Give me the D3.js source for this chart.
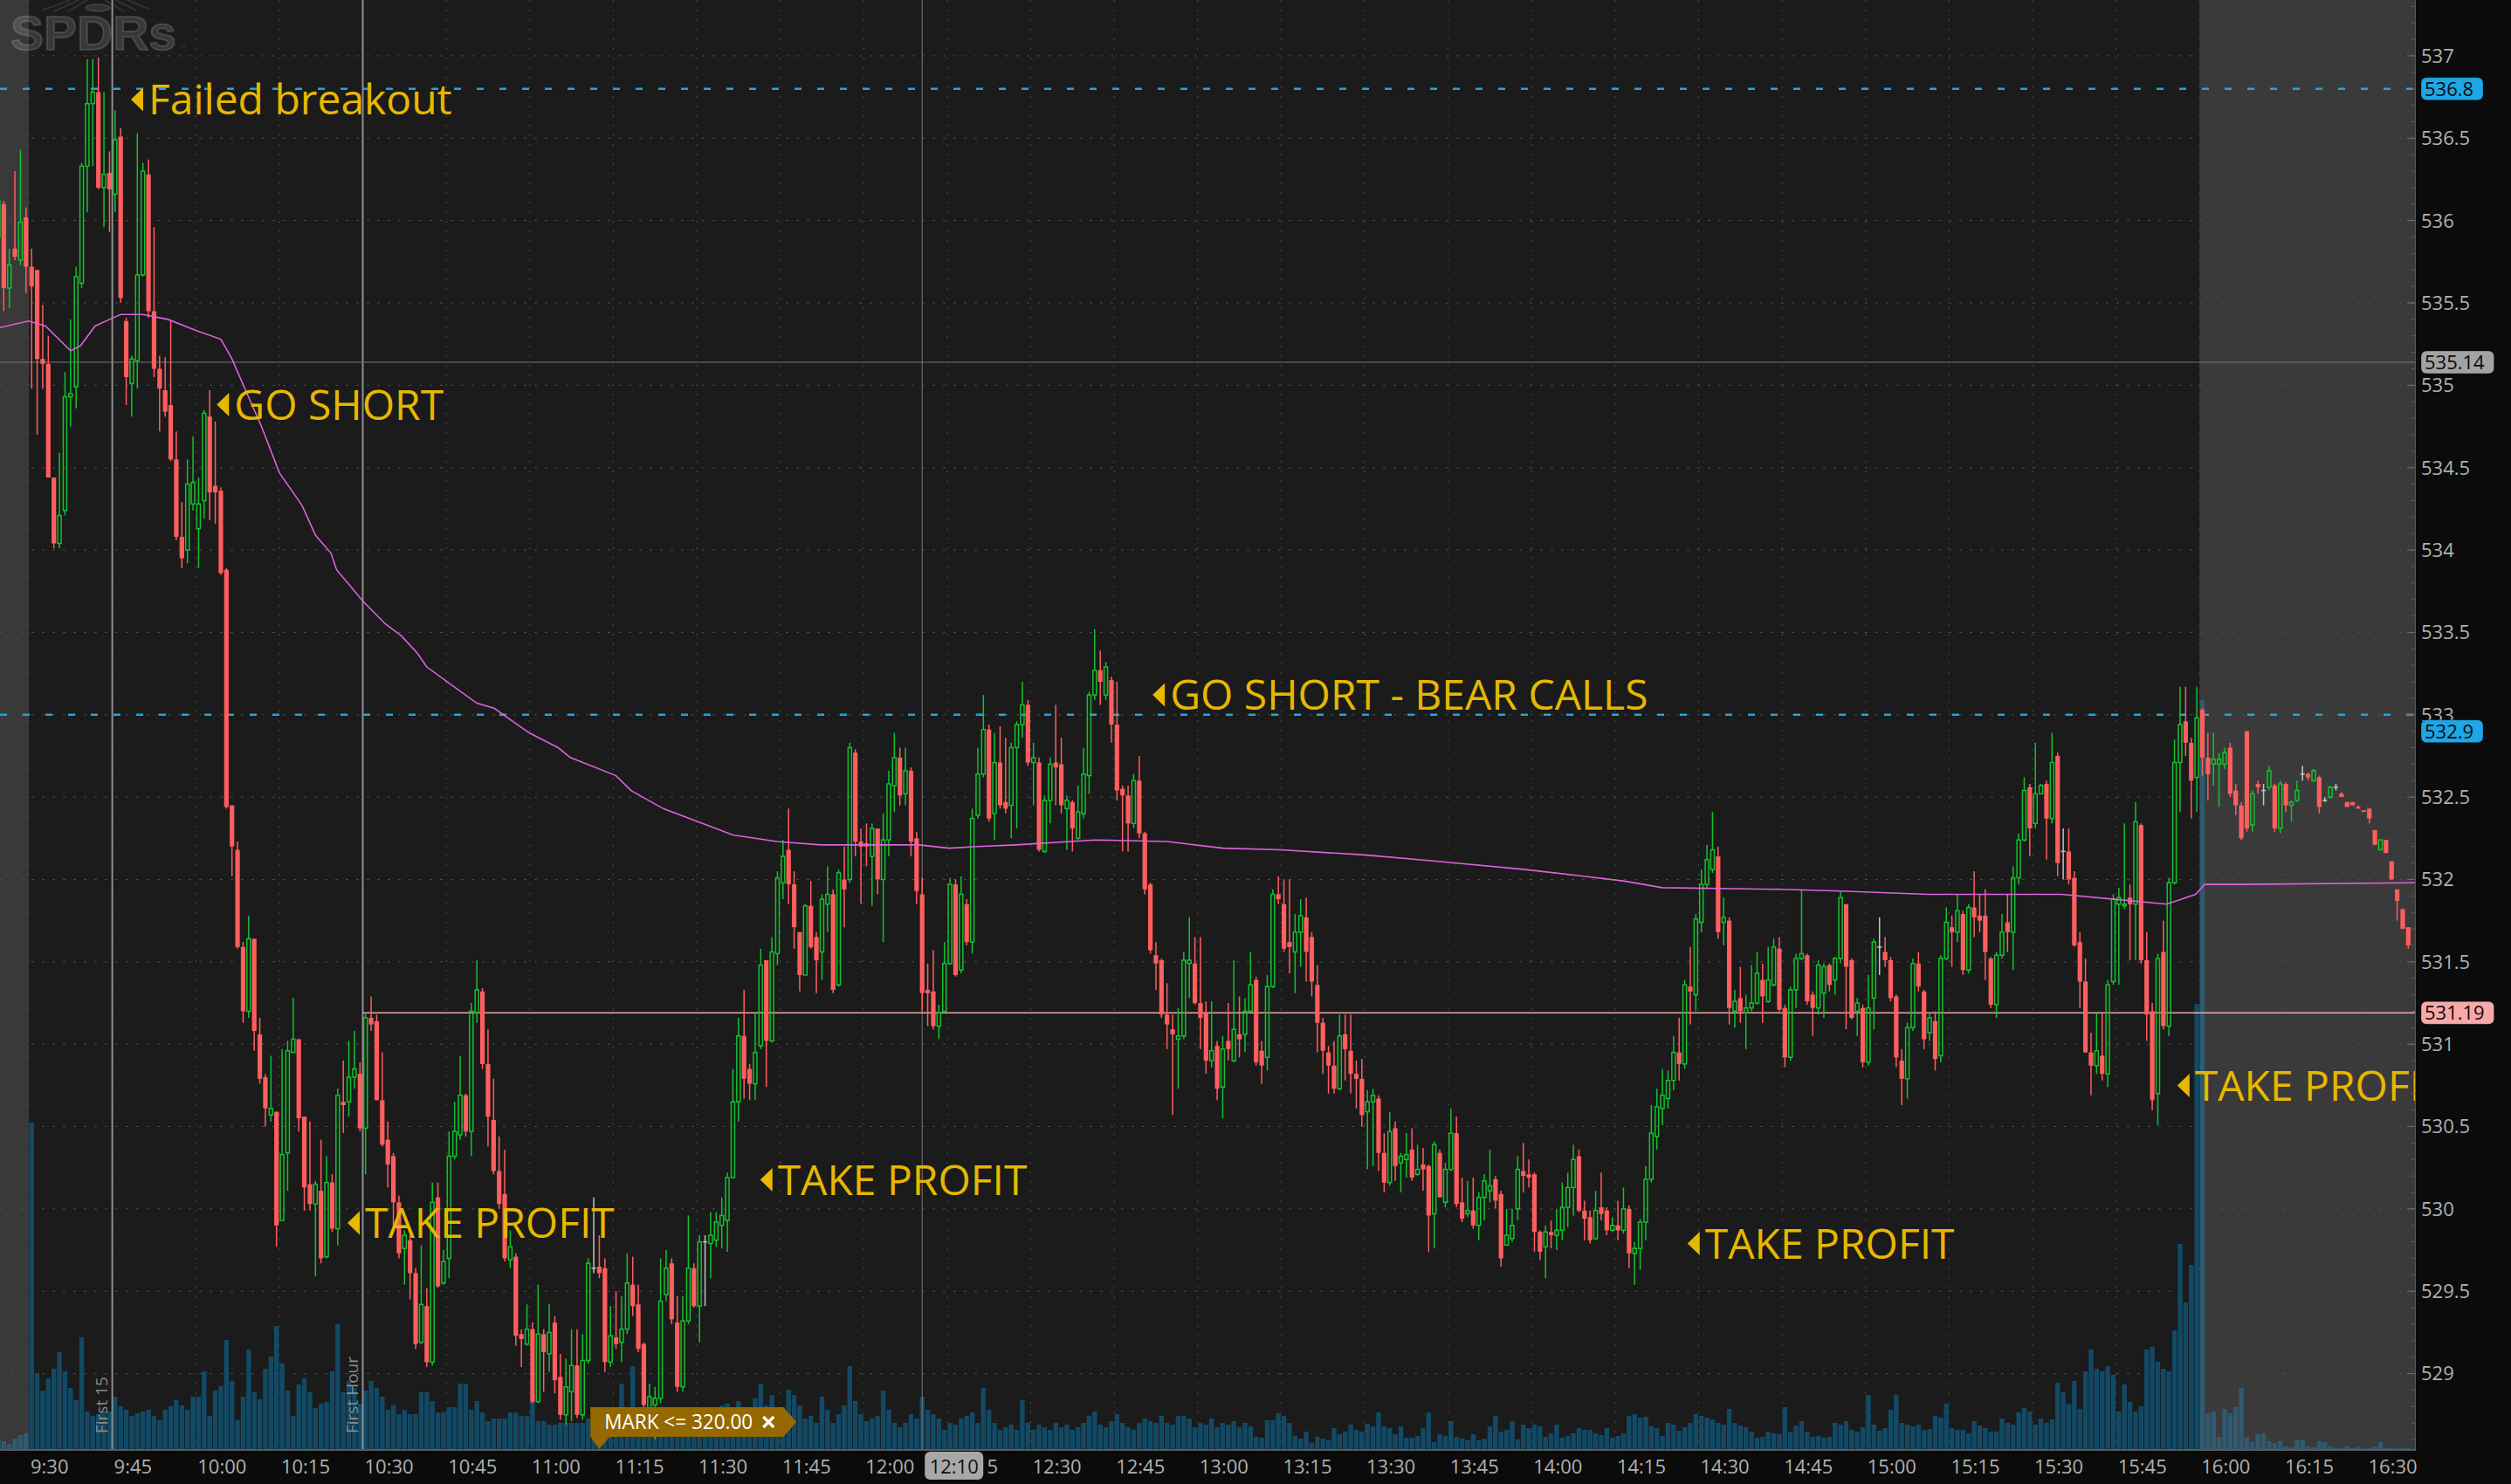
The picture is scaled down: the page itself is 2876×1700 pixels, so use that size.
<!DOCTYPE html>
<html><head><meta charset="utf-8">
<script src="https://cdn.jsdelivr.net/npm/d3@7"></script>
<style>html,body{margin:0;padding:0;background:#0b0b0b;overflow:hidden}</style>
</head><body>
<svg id="chart" width="2876" height="1700"></svg>
<script>
// ---------------- DATA ----------------
// 1-minute SPY bars, minute index relative to 9:30 (first bar = 9:24 pre-market)
const firstMinute = -6;
const openP = [
535.90,536.10,535.59,535.83,535.76,536.02,535.72,535.70,535.16,535.13,
534.44,534.04,534.24,534.93,534.99,535.62,536.33,536.71,536.78,536.20,
536.29,536.16,536.51,535.39,535.01,535.15,535.67,536.28,535.45,535.10,
534.97,534.88,534.55,534.08,534.00,534.28,534.13,534.30,534.81,534.39,
534.36,533.88,532.45,532.18,531.59,531.20,531.64,531.06,530.80,530.57,
530.59,529.93,530.34,530.95,531.03,530.56,530.15,530.03,530.11,529.71,
530.16,529.88,530.65,530.65,530.80,530.82,530.49,531.16,531.14,530.66,
530.42,530.32,530.04,529.76,529.81,529.61,529.19,529.41,529.07,530.07,
529.55,529.70,530.32,530.45,530.69,530.47,531.19,531.32,530.88,530.54,
530.23,530.09,529.69,529.71,529.24,529.18,529.27,528.83,529.24,529.12,
529.31,528.98,528.75,528.89,529.05,528.75,529.08,529.64,529.65,529.64,
529.07,529.22,529.19,529.27,529.54,529.42,529.18,528.78,528.81,528.85,
529.48,529.67,529.31,528.92,529.32,529.64,529.41,529.80,529.79,529.81,
529.90,529.93,530.19,530.65,531.05,530.85,530.76,530.99,531.51,531.02,
531.55,531.98,532.18,531.97,531.68,531.42,531.84,531.65,531.56,531.85,
531.91,531.36,532.00,532.00,532.77,532.23,532.22,532.14,532.31,532.00,
532.24,532.57,532.74,532.52,532.66,532.25,531.91,531.33,531.32,531.11,
531.20,531.49,531.97,531.45,531.85,531.62,532.39,532.64,532.91,532.40,
532.71,532.47,532.45,532.80,532.94,533.06,532.71,532.71,532.17,532.48,
532.71,532.70,532.43,532.47,532.25,532.40,532.63,533.12,533.27,533.12,
533.21,532.94,532.55,532.51,532.34,532.60,532.28,531.97,531.54,531.51,
531.18,531.09,531.03,531.05,531.49,531.49,531.25,531.19,530.90,530.99,
530.74,531.02,530.90,531.06,531.06,531.20,531.39,530.96,530.92,531.35,
531.91,531.85,531.62,531.56,531.68,531.77,531.65,531.36,531.13,530.95,
530.87,530.73,531.06,530.96,530.82,530.79,530.59,530.65,530.67,530.34,
530.16,530.49,530.28,530.30,530.36,530.21,530.27,530.26,529.97,530.34,
530.04,530.24,530.46,530.04,529.97,529.99,529.90,530.07,530.11,530.18,
530.09,529.78,529.82,530.00,530.23,530.21,530.21,529.86,529.77,529.86,
529.84,529.87,530.01,530.13,530.32,529.99,529.95,529.82,530.01,529.99,
529.87,529.90,529.87,530.00,529.73,529.76,529.92,530.18,530.44,530.61,
530.67,530.78,530.95,530.88,531.35,531.30,531.74,531.97,532.06,532.14,
531.74,531.75,531.20,531.28,531.19,531.22,531.25,531.39,531.26,531.36,
531.58,531.22,530.92,531.33,531.52,531.54,531.30,531.22,531.31,531.48,
531.39,531.52,531.85,531.51,531.20,531.22,530.89,531.28,531.59,531.56,
531.51,531.29,530.90,530.79,531.10,531.49,531.32,531.07,531.14,530.93,
531.52,531.71,531.68,531.79,531.45,531.83,531.78,531.78,531.52,531.24,
531.54,531.74,531.68,532.01,532.24,532.56,532.34,532.52,532.58,532.37,
532.75,532.17,532.17,532.01,531.62,531.38,530.95,530.87,530.93,530.82,
531.38,531.85,531.84,531.89,531.85,532.33,531.51,531.20,530.70,531.56,
531.11,531.98,532.71,532.96,532.83,532.62,533.03,532.74,532.70,532.70,
532.70,532.80,532.54,532.45,532.90,532.33,532.58,532.54,532.56,532.57,
532.31,532.58,532.45,532.48,532.64,532.64,532.60,532.62,532.48,532.50,
532.56,532.52,532.47,532.47,532.44,532.42,532.43,532.30,532.18,532.24,
532.11,531.94,531.82,531.71];
const highP = [
536.16,536.12,535.83,536.30,536.43,536.08,535.83,535.70,535.49,535.30,
534.44,534.59,535.08,535.40,535.72,536.35,536.98,536.98,536.99,536.78,
536.42,536.67,536.56,535.41,535.18,536.53,536.35,536.37,535.96,535.18,
535.17,535.39,534.72,534.29,534.55,534.69,534.44,534.85,534.97,534.78,
534.38,533.89,532.45,532.23,531.62,531.78,531.64,531.16,530.82,530.93,
530.59,530.97,531.02,531.28,531.03,530.56,530.53,530.17,530.42,530.32,
530.21,530.73,530.90,531.02,531.08,530.89,531.19,531.29,531.18,530.95,
530.53,530.34,530.08,529.87,529.84,529.64,529.78,529.52,530.16,530.16,
529.75,530.47,530.65,530.93,530.70,531.25,531.51,531.34,531.09,530.79,
530.44,530.36,529.87,529.73,529.27,529.42,529.31,529.54,529.27,529.42,
529.35,529.12,529.09,529.27,529.27,529.24,529.70,530.07,529.84,529.70,
529.41,529.50,529.47,529.73,529.71,529.54,529.19,528.94,528.92,529.70,
529.75,529.70,529.47,529.47,529.96,529.67,529.84,529.84,529.98,529.98,
530.07,530.22,530.85,531.16,531.33,530.88,531.19,531.58,531.51,531.65,
532.05,532.24,532.43,532.05,531.68,531.85,531.99,531.68,531.91,532.08,
531.94,532.06,532.20,532.83,532.79,532.31,532.34,532.34,532.31,532.40,
532.66,532.89,532.80,532.80,532.68,532.29,532.01,531.49,531.57,531.24,
531.62,532.01,532.00,532.02,531.88,532.43,532.80,533.12,532.94,532.89,
532.93,532.86,532.83,532.96,533.20,533.09,532.83,532.74,532.51,532.74,
533.06,532.86,532.51,532.48,532.57,532.80,533.14,533.52,533.39,533.32,
533.23,533.20,532.57,532.57,532.64,532.75,532.29,531.98,531.62,531.52,
531.37,531.18,531.22,531.56,531.77,531.65,531.65,531.26,531.26,531.02,
531.05,531.25,531.51,531.29,531.28,531.56,531.41,531.02,531.42,531.94,
532.02,532.00,532.00,531.79,531.88,531.89,531.68,531.48,531.16,530.99,
531.02,531.18,531.18,531.18,530.90,530.91,530.72,530.73,530.69,530.46,
530.59,530.53,530.34,530.46,530.49,530.39,530.37,530.27,530.41,530.36,
530.28,530.61,530.56,530.19,530.17,530.19,530.10,530.21,530.36,530.20,
530.11,530.00,530.00,530.32,530.40,530.30,530.22,529.87,529.90,529.93,
530.00,530.16,530.22,530.39,530.36,530.05,529.99,530.11,530.22,530.01,
529.95,530.05,530.13,530.02,529.80,529.94,530.26,530.63,530.73,530.85,
530.84,531.05,531.16,531.39,531.59,531.79,532.06,532.21,532.41,532.20,
531.89,531.77,531.33,531.47,531.30,531.48,531.56,531.49,531.59,531.64,
531.65,531.24,531.35,531.55,531.94,531.55,531.32,531.51,531.49,531.49,
531.53,531.93,531.85,531.52,531.28,531.24,531.42,531.64,531.77,531.65,
531.53,531.30,530.97,531.13,531.52,531.56,531.33,531.19,531.20,531.54,
531.83,531.78,531.91,531.81,531.85,532.05,531.91,531.94,531.53,531.56,
531.79,531.91,532.08,532.28,532.62,532.58,532.83,532.58,532.60,532.89,
532.77,532.31,532.31,532.05,531.68,531.52,531.07,531.19,531.19,531.39,
531.91,531.95,532.34,531.97,532.47,532.34,531.68,531.25,531.55,531.75,
532.01,532.85,533.17,533.17,532.86,533.17,533.04,532.89,532.89,532.77,
532.80,532.83,532.58,532.47,532.90,532.54,532.60,532.58,532.69,532.58,
532.60,532.59,532.48,532.60,532.69,532.65,532.67,532.63,532.50,532.57,
532.58,532.53,532.47,532.47,532.45,532.42,532.43,532.30,532.24,532.24,
532.11,531.94,531.82,531.71];
const lowP = [
535.87,535.45,535.47,535.76,535.73,535.56,534.98,534.70,534.98,534.44,
534.01,534.01,534.21,534.75,534.86,535.59,536.05,536.33,536.19,535.96,
535.93,536.05,535.50,534.88,534.81,534.98,535.66,535.41,535.05,534.72,
534.81,534.54,534.06,533.89,533.92,534.24,533.89,534.19,534.18,534.16,
533.85,532.43,532.02,531.58,531.13,531.16,530.96,530.76,530.50,530.53,
529.77,529.93,530.11,530.95,530.47,529.99,529.99,529.59,529.67,529.70,
529.86,529.78,530.46,530.56,530.73,530.47,530.21,531.08,530.66,530.38,
530.13,529.90,529.70,529.54,529.45,529.15,529.18,529.04,529.05,529.52,
529.54,529.58,530.30,530.42,530.44,530.32,531.13,530.85,530.38,530.21,
530.00,529.68,529.64,529.17,529.04,529.17,528.82,528.82,528.89,529.01,
528.88,528.72,528.69,528.71,528.73,528.72,529.06,529.61,529.58,529.01,
529.04,529.15,529.07,529.24,529.35,529.13,528.77,528.63,528.60,528.82,
529.44,529.30,528.89,528.89,529.30,529.40,529.19,529.41,529.58,529.77,
529.76,529.74,530.19,530.53,530.67,530.66,530.66,530.97,530.74,531.01,
531.48,531.88,531.85,531.58,531.32,531.42,531.58,531.31,531.39,531.68,
531.31,531.35,531.71,531.98,532.14,531.85,532.08,531.84,531.91,531.62,
532.14,532.41,532.45,532.45,532.14,531.85,531.20,531.11,531.09,531.03,
531.19,531.48,531.41,531.43,531.60,531.55,532.37,532.62,532.35,532.24,
532.43,532.40,532.25,532.31,532.86,532.69,532.45,532.17,532.16,532.34,
532.45,532.40,532.18,532.17,532.24,532.37,532.52,533.09,533.06,533.09,
532.83,532.48,532.17,532.17,532.31,532.25,531.91,531.55,531.33,531.16,
530.97,530.57,530.73,531.03,531.28,531.24,530.97,530.82,530.86,530.66,
530.55,530.90,530.89,530.92,530.95,531.19,530.87,530.76,530.84,531.34,
531.85,531.56,531.43,531.31,531.47,531.38,531.29,530.95,530.82,530.70,
530.70,530.72,530.78,530.70,530.61,530.50,530.24,530.26,530.23,530.10,
530.14,530.17,530.10,530.19,530.17,530.20,530.11,529.74,529.76,530.07,
530.01,530.23,530.01,529.92,529.95,529.88,529.81,529.93,530.04,530.00,
529.65,529.78,529.80,529.93,530.10,530.13,529.74,529.69,529.58,529.76,
529.75,529.81,529.89,529.96,529.98,529.81,529.79,529.81,529.93,529.84,
529.86,529.81,529.85,529.64,529.54,529.63,529.81,530.16,530.36,530.51,
530.61,530.72,530.78,530.85,531.12,531.20,531.68,531.94,532.04,531.64,
531.60,531.12,531.10,531.13,530.97,531.20,531.24,531.13,531.25,531.35,
531.20,530.86,530.90,531.22,531.51,531.24,531.05,531.18,531.16,531.32,
531.30,531.49,531.09,531.15,531.05,530.86,530.87,531.09,531.42,531.47,
531.26,530.86,530.63,530.67,531.08,531.32,530.97,531.02,530.84,530.89,
531.51,531.47,531.62,531.42,531.43,531.65,531.68,531.39,531.22,531.16,
531.52,531.56,531.45,531.97,532.23,532.14,532.31,532.52,532.12,532.34,
532.02,532.00,531.97,531.59,531.22,530.95,530.69,530.82,530.78,530.74,
531.36,531.36,531.82,531.51,531.51,531.49,531.02,530.60,530.51,531.09,
531.05,531.97,532.41,532.75,532.37,532.41,532.63,532.48,532.57,532.44,
532.67,532.50,532.39,532.24,532.29,532.29,532.52,532.45,532.54,532.29,
532.28,532.41,532.35,532.47,532.60,532.60,532.59,532.40,532.47,532.49,
532.54,532.50,532.44,532.45,532.43,532.41,532.34,532.21,532.18,532.16,
532.00,531.75,531.70,531.58];
const closeP = [
536.12,535.59,535.73,535.78,535.99,535.72,535.60,535.16,535.13,534.44,
534.04,534.21,534.93,534.95,535.66,536.33,536.71,536.78,536.20,536.28,
536.19,536.49,535.53,535.05,535.16,535.67,536.30,535.45,535.10,534.98,
534.84,534.55,534.08,533.95,534.40,534.41,534.28,534.83,534.35,534.35,
533.86,532.44,532.20,531.59,531.20,531.64,531.08,530.79,530.61,530.61,
529.90,530.33,530.96,531.03,530.55,530.13,530.03,530.15,529.70,530.16,
529.88,530.69,530.63,530.80,530.85,530.49,531.16,531.12,530.66,530.39,
530.27,530.04,529.73,529.84,529.61,529.18,529.42,529.07,530.04,529.53,
529.68,530.32,530.47,530.69,530.47,531.20,531.33,530.88,530.56,530.23,
530.03,529.70,529.77,529.23,529.21,529.27,528.83,529.24,529.13,529.25,
528.96,528.75,528.92,529.05,528.75,529.08,529.67,529.64,529.61,529.07,
529.23,529.18,529.27,529.55,529.41,529.15,528.81,528.86,528.85,529.44,
529.64,529.33,528.92,529.32,529.64,529.41,529.80,529.80,529.84,529.92,
529.96,530.19,530.65,531.05,530.79,530.76,530.95,531.48,531.02,531.56,
532.01,532.14,531.97,531.71,531.42,531.84,531.59,531.51,531.88,531.91,
531.33,532.04,531.94,532.80,532.23,532.20,532.20,532.31,532.00,532.24,
532.58,532.74,532.51,532.66,532.23,531.93,531.31,531.31,531.11,531.19,
531.49,531.97,531.42,531.91,531.62,532.37,532.64,532.91,532.37,532.71,
532.45,532.43,532.80,532.94,533.06,532.71,532.74,532.18,532.48,532.70,
532.68,532.45,532.48,532.31,532.41,532.64,533.12,533.27,533.20,533.29,
532.94,532.54,532.51,532.34,532.60,532.28,531.94,531.57,531.49,531.18,
531.12,531.06,531.05,531.51,531.51,531.25,531.16,530.90,530.96,530.73,
530.97,530.97,531.09,531.03,531.20,531.36,530.89,530.87,531.35,531.91,
531.88,531.58,531.59,531.68,531.78,531.56,531.38,531.13,530.96,530.87,
530.73,531.05,530.97,530.82,530.79,530.57,530.65,530.69,530.34,530.16,
530.47,530.26,530.32,530.33,530.19,530.24,530.24,529.96,530.39,530.07,
530.24,530.46,530.03,529.94,529.99,529.90,530.07,530.17,530.14,530.05,
529.70,529.84,529.90,530.24,530.20,530.19,529.86,529.74,529.86,529.84,
529.87,530.01,530.13,530.30,529.99,529.94,529.81,529.99,529.97,529.87,
529.90,529.87,530.00,529.73,529.76,529.92,530.18,530.46,530.62,530.69,
530.78,530.95,530.88,531.36,531.32,531.76,531.97,532.12,532.18,531.68,
531.77,531.22,531.26,531.20,531.22,531.25,531.43,531.29,531.39,531.59,
531.21,530.92,531.33,531.52,531.55,531.26,531.22,531.48,531.47,531.36,
531.52,531.89,531.47,531.16,531.25,530.89,531.22,531.62,531.59,531.51,
531.28,530.92,530.79,531.10,531.49,531.35,531.03,531.16,530.91,531.52,
531.74,531.68,531.81,531.45,531.83,531.77,531.75,531.56,531.24,531.54,
531.68,531.68,532.01,532.24,532.54,532.31,532.52,532.57,532.37,532.71,
532.10,532.17,532.00,531.60,531.38,530.95,530.87,530.96,530.82,531.36,
531.88,531.89,531.85,531.85,532.35,531.51,531.18,530.66,531.52,531.11,
531.98,532.71,532.94,532.83,532.60,532.98,532.74,532.64,532.73,532.73,
532.77,532.52,532.45,532.25,532.31,532.52,532.56,532.54,532.66,532.31,
532.58,532.45,532.47,532.54,532.64,532.62,532.66,532.44,532.48,532.56,
532.56,532.50,532.44,532.45,532.43,532.41,532.37,532.21,532.24,532.16,
532.00,531.87,531.70,531.60];
// volume in thousands of shares
const volumeK = [
20,18,12,24,32,36,
748,174,134,162,184,222,178,140,112,256,86,76,80,88,86,
120,98,90,76,82,86,90,76,66,90,98,112,100,90,120,
120,178,76,134,144,250,156,66,120,228,130,114,184,212,282,
196,134,76,148,162,130,94,104,108,178,286,130,156,140,104,
134,156,140,120,90,100,80,90,80,80,130,130,110,84,84,
96,96,150,150,90,110,84,64,70,70,70,84,84,76,76,
124,64,64,56,56,60,60,60,60,60,70,76,80,70,70,
80,150,96,190,60,60,76,76,90,80,70,60,70,90,80,
70,84,76,90,100,104,90,110,90,80,116,150,100,124,90,
96,136,124,100,70,76,60,120,90,60,80,100,190,110,80,
64,70,76,134,90,60,50,60,80,70,120,90,80,70,44,
60,56,70,76,84,60,140,90,60,44,50,56,44,112,60,
44,56,50,44,60,50,56,44,50,60,76,86,56,50,64,
80,60,50,44,60,70,64,60,76,60,56,76,76,70,50,
60,56,70,50,60,56,64,50,60,52,28,26,66,66,82,
76,60,30,24,40,14,28,24,20,48,34,40,56,44,40,
58,52,84,52,48,34,52,26,26,30,48,84,16,34,30,
64,28,24,20,34,20,24,52,76,40,44,64,22,56,48,
56,52,28,36,56,26,30,36,48,44,44,36,32,48,26,
30,36,76,80,72,74,52,48,30,60,56,42,50,60,80,
76,72,68,60,56,92,60,54,50,40,26,28,40,36,34,
96,40,54,64,40,28,30,26,28,60,56,64,44,40,50,
124,56,42,48,90,124,60,56,52,56,44,46,76,72,104,
48,44,44,36,64,54,48,40,40,70,60,56,84,94,86,
56,70,60,68,152,130,104,156,92,178,228,184,178,190,170,
86,148,108,86,98,228,234,200,184,178,272,470,336,422,1020,
1716,82,86,28,92,82,96,140,28,16,34,36,18,14,18,
6,4,22,20,6,4,18,16,6,2,2,6,2,4,2,
2,6,16,2,2,2,2,2];
// VWAP study (minute index, price)
const vwapMinute = [-5.7,-0.6,2.5,7,8.8,11.4,14,16,20,24.5,29.7,34,36,38.7,41.3,44.5,48.6,51,53.8,54.8,59.5,63.6,66.4,69.4,71,80,83.1,89.4,94.6,96.8,105,107.7,113.5,119.8,126,133.9,141.8,159.5,164.8,170,176.8,191,204,214,224.4,239.1,252.7,268.4,278.9,286.2,293,314.5,325,340.7,353.8,364.7,374.2,383.6,388.8,390.4,397.2,428.5];
const vwapPrice = [535.35,535.39,535.36,535.21,535.24,535.36,535.40,535.43,535.43,535.40,535.33,535.28,535.16,534.95,534.75,534.47,534.27,534.09,533.98,533.88,533.69,533.55,533.48,533.37,533.29,533.07,533.04,532.89,532.80,532.74,532.63,532.54,532.43,532.35,532.27,532.23,532.21,532.21,532.19,532.20,532.21,532.24,532.23,532.19,532.18,532.15,532.11,532.06,532.02,531.99,531.95,531.94,531.93,531.91,531.91,531.91,531.88,531.85,531.91,531.97,531.97,531.98];
// axes
const timeTickMinutes = d3.range(0, 421, 15);
const timeTickLabels = ["9:30","9:45","10:00","10:15","10:30","10:45","11:00","11:15","11:30","11:45","12:00","12:15","12:30","12:45","13:00","13:15","13:30","13:45","14:00","14:15","14:30","14:45","15:00","15:15","15:30","15:45","16:00","16:15","16:30"];
const priceTicks = [529,529.5,530,530.5,531,531.5,532,532.5,533,533.5,534,534.5,535,535.5,536,536.5,537];
const priceTickLabels = ["529","529.5","530","530.5","531","531.5","532","532.5","533","533.5","534","534.5","535","535.5","536","536.5","537"];
// drawing annotations
const annLabels = ["Failed breakout","GO SHORT","GO SHORT - BEAR CALLS","TAKE PROFIT","TAKE PROFIT","TAKE PROFIT","TAKE PROFIT"];
const annMinute = [18.35,33.77,201.9,57.25,131.4,298.0,386.0];
const annPrice = [536.735,534.883,533.121,529.915,530.177,529.79,530.749];
// price levels (alert lines and their axis bubbles)
const alertLevels = [536.8, 533.0];
const alertBubblePrices = [536.8, 532.9];
const alertLabels = ["536.8","532.9"];
const crossPrice = 535.14, crossLabel = "535.14";
const crossMinute = 160, crossTimeLabel = "12:10";
const lastPrice = 531.19, lastLabel = "531.19", lastStartMinute = 60;
const markerMinutes = [15, 60];
const markerLabels = ["First 15","First Hour"];
const markMinute = 100.9, markText = "MARK <= 320.00";
const sessionOpen = 0, sessionClose = 390;

// ---------------- CHART ----------------
const W = 2876, H = 1700, plotR = 2766, plotB = 1660;
const x = d3.scaleLinear().domain([-5.176, 428.7]).range([0, plotR]);
const y = d3.scaleLinear().domain([528.542, 537.339]).range([plotB, 0]);
const yv = d3.scaleLinear().domain([0, 2000]).range([plotB, plotB - 1000]);
const step = x(1) - x(0);

const svg = d3.select('#chart');
svg.append('rect').attr('width', W).attr('height', H).attr('fill', '#0b0b0b');
svg.append('defs').append('clipPath').attr('id', 'pc')
  .append('rect').attr('x', 0).attr('y', 0).attr('width', plotR).attr('height', plotB);
const plot = svg.append('g').attr('clip-path', 'url(#pc)');

plot.append('rect').attr('width', plotR).attr('height', plotB).attr('fill', '#1b1b1b');
plot.append('rect').attr('x', 0).attr('width', x(sessionOpen)).attr('height', plotB).attr('fill', '#393939');
plot.append('rect').attr('x', x(sessionClose)).attr('width', plotR - x(sessionClose)).attr('height', plotB).attr('fill', '#3a3a3a');

// watermark
plot.append('text').attr('x', 12).attr('y', 57).text('SPDRs')
  .attr('font-family', 'Liberation Sans, Arial, sans-serif').attr('font-weight', 'bold')
  .attr('font-size', 55).attr('textLength', 190).attr('lengthAdjust', 'spacingAndGlyphs')
  .attr('fill', 'rgba(255,255,255,0.13)').attr('stroke', 'rgba(255,255,255,0.13)').attr('stroke-width', 2);
plot.append('text').attr('x', 204).attr('y', 58).text('™').attr('font-size', 9).attr('fill', 'rgba(255,255,255,0.15)');
const emb = plot.append('g').attr('stroke', 'rgba(255,255,255,0.1)').attr('stroke-width', 2).attr('fill', 'none');
[[48,12,80,0],[62,13,90,0],[78,13,100,0],[142,13,120,0],[156,12,132,0],[170,10,146,0]].forEach(s =>
  emb.append('line').attr('x1', s[0]).attr('y1', s[1]).attr('x2', s[2]).attr('y2', s[3]));
emb.append('ellipse').attr('cx', 112).attr('cy', 9).attr('rx', 14).attr('ry', 4).attr('fill', 'rgba(255,255,255,0.1)');

// grid
plot.append('g').selectAll('line').data(priceTicks).join('line')
  .attr('x1', 0).attr('x2', plotR).attr('y1', d => y(d)).attr('y2', d => y(d))
  .attr('stroke', '#4c4c4c').attr('stroke-width', 1).attr('stroke-dasharray', '3,9');
plot.append('g').selectAll('line').data(timeTickMinutes).join('line')
  .attr('x1', d => x(d)).attr('x2', d => x(d)).attr('y1', 0).attr('y2', plotB)
  .attr('stroke', '#4c4c4c').attr('stroke-width', 1).attr('stroke-dasharray', '2,9');

// volume
const idx = d3.range(openP.length);
plot.append('g').selectAll('rect').data(idx).join('rect')
  .attr('x', i => x(firstMinute + i) + 0.5).attr('width', step - 1)
  .attr('y', i => yv(volumeK[i])).attr('height', i => plotB - yv(volumeK[i]))
  .attr('fill', i => { const t = firstMinute + i; return (t < sessionOpen || t >= sessionClose) ? '#2f5a70' : '#124a66'; });

// marker vertical lines
plot.append('g').selectAll('line').data(markerMinutes).join('line')
  .attr('x1', d => x(d)).attr('x2', d => x(d)).attr('y1', 0).attr('y2', plotB)
  .attr('stroke', '#8e8e8e').attr('stroke-width', 2);
plot.append('g').selectAll('text').data(markerMinutes).join('text')
  .attr('transform', d => `translate(${x(d) - 6},${plotB - 18}) rotate(-90)`)
  .text((d, i) => markerLabels[i]).attr('font-family', 'Open Sans, sans-serif').attr('font-size', 19).attr('fill', '#8a8a8a');

// crosshair
const crossX = x(crossMinute + 0.5);
plot.append('line').attr('x1', crossX).attr('x2', crossX).attr('y1', 0).attr('y2', plotB).attr('stroke', '#7a7a7a').attr('stroke-width', 1);
plot.append('line').attr('x1', 0).attr('x2', plotR).attr('y1', y(crossPrice)).attr('y2', y(crossPrice)).attr('stroke', '#7a7a7a').attr('stroke-width', 1);

// alert levels
plot.append('g').selectAll('line').data(alertLevels).join('line')
  .attr('x1', 0).attr('x2', plotR).attr('y1', d => y(d)).attr('y2', d => y(d))
  .attr('stroke', '#1fa6e0').attr('stroke-width', 2.5).attr('stroke-dasharray', '8,18');
// last price line
plot.append('line').attr('x1', x(lastStartMinute)).attr('x2', plotR).attr('y1', y(lastPrice)).attr('y2', y(lastPrice))
  .attr('stroke', '#f2a6a6').attr('stroke-width', 1.5);

// candles
const green = '#12c22e', red = '#ff5e5e', gray = '#c4c4c4';
const cg = plot.append('g');
idx.forEach(i => {
  const t = firstMinute + i, cx = x(t + 0.5);
  const o = openP[i], h = highP[i], l = lowP[i], c = closeP[i];
  if (c > o) {
    cg.append('line').attr('x1', cx).attr('x2', cx).attr('y1', y(h)).attr('y2', y(c)).attr('stroke', green).attr('stroke-width', 1.5);
    cg.append('line').attr('x1', cx).attr('x2', cx).attr('y1', y(o)).attr('y2', y(l)).attr('stroke', green).attr('stroke-width', 1.5);
    cg.append('rect').attr('x', cx - 2).attr('width', 4).attr('y', y(c)).attr('height', Math.max(1, y(o) - y(c)))
      .attr('fill', 'none').attr('stroke', green).attr('stroke-width', 1.5);
  } else if (c < o) {
    cg.append('line').attr('x1', cx).attr('x2', cx).attr('y1', y(h)).attr('y2', y(l)).attr('stroke', red).attr('stroke-width', 1.5);
    cg.append('rect').attr('x', cx - 2.6).attr('width', 5.2).attr('y', y(o)).attr('height', Math.max(1.5, y(c) - y(o))).attr('fill', red);
  } else {
    cg.append('line').attr('x1', cx).attr('x2', cx).attr('y1', y(h)).attr('y2', y(l)).attr('stroke', gray).attr('stroke-width', 1.5);
    cg.append('line').attr('x1', cx - 2.6).attr('x2', cx + 2.6).attr('y1', y(o)).attr('y2', y(o)).attr('stroke', gray).attr('stroke-width', 1.5);
  }
});

// VWAP
plot.append('path').datum(vwapMinute.map((m, i) => [m, vwapPrice[i]]))
  .attr('d', d3.line().x(d => x(d[0] + 0.5)).y(d => y(d[1])))
  .attr('fill', 'none').attr('stroke', '#dc62dc').attr('stroke-width', 1.6);

// annotations
const ag = plot.append('g').attr('fill', '#e6b800');
annLabels.forEach((lab, i) => {
  const ax = x(annMinute[i]), ay = y(annPrice[i]);
  ag.append('path').attr('d', `M${ax},${ay} L${ax + 14},${ay - 13.5} L${ax + 14},${ay + 13.5} Z`);
  ag.append('text').attr('x', ax + 20).attr('y', ay + 17.5).text(lab)
    .attr('font-family', 'Open Sans, sans-serif').attr('font-size', 48);
});

// MARK order tag
const mx = x(markMinute);
const mg = plot.append('g');
mg.append('path').attr('d', `M${mx},${plotB - 48} L${mx + 221},${plotB - 48} L${mx + 236},${plotB - 31} L${mx + 221},${plotB - 14} L${mx + 22},${plotB - 14} L${mx + 10},${plotB} L${mx},${plotB - 14} Z`)
  .attr('fill', '#966800');
mg.append('text').attr('x', mx + 16).attr('y', plotB - 23).text(markText)
  .attr('font-family', 'Open Sans, sans-serif').attr('font-size', 24).attr('fill', '#ffffff')
  .attr('textLength', 170).attr('lengthAdjust', 'spacingAndGlyphs');
mg.append('path').attr('d', `M${mx + 198},${plotB - 37} L${mx + 210},${plotB - 25} M${mx + 210},${plotB - 37} L${mx + 198},${plotB - 25}`)
  .attr('stroke', '#ffffff').attr('stroke-width', 3.2);

// ---------------- AXES ----------------
svg.append('rect').attr('x', 0).attr('y', plotB).attr('width', W).attr('height', H - plotB).attr('fill', '#0b0b0b');
svg.append('rect').attr('x', plotR).attr('y', 0).attr('width', W - plotR).attr('height', H).attr('fill', '#0b0b0b');
svg.append('line').attr('x1', 0).attr('x2', plotR + 1).attr('y1', plotB + 1).attr('y2', plotB + 1).attr('stroke', '#595959').attr('stroke-width', 2);
svg.append('line').attr('x1', plotR + 0.5).attr('x2', plotR + 0.5).attr('y1', 0).attr('y2', plotB).attr('stroke', '#5a5a5a').attr('stroke-width', 1);

// minor/major ticks on price axis
svg.append('g').selectAll('line').data(d3.range(5286, 5374).map(v => v / 10)).join('line')
  .attr('x1', plotR - 4).attr('x2', plotR).attr('y1', d => y(d)).attr('y2', d => y(d)).attr('stroke', '#606060').attr('stroke-width', 1);
svg.append('g').selectAll('line').data(priceTicks).join('line')
  .attr('x1', plotR - 9).attr('x2', plotR).attr('y1', d => y(d)).attr('y2', d => y(d)).attr('stroke', '#707070').attr('stroke-width', 1);

svg.append('g').selectAll('text').data(priceTicks).join('text')
  .attr('x', plotR + 7).attr('y', d => y(d)).attr('dy', '0.36em')
  .text((d, i) => priceTickLabels[i])
  .attr('font-family', 'Open Sans, sans-serif').attr('font-size', 22).attr('fill', '#b0b0b0');

svg.append('g').selectAll('text').data(timeTickMinutes).join('text')
  .attr('x', d => x(d) + 2).attr('y', 1688)
  .text((d, i) => timeTickLabels[i])
  .attr('font-family', 'Open Sans, sans-serif').attr('font-size', 22).attr('fill', '#b0b0b0');

// price bubbles
function bubble(price, label, fill) {
  const w = label.length * 12.6 + 8;
  const g = svg.append('g');
  g.append('rect').attr('x', plotR + 7).attr('y', y(price) - 13).attr('width', w).attr('height', 26).attr('rx', 6)
    .attr('fill', fill).attr('stroke', 'rgba(0,0,0,0.35)').attr('stroke-width', 1);
  g.append('text').attr('x', plotR + 11).attr('y', y(price)).attr('dy', '0.36em').text(label)
    .attr('font-family', 'Open Sans, sans-serif').attr('font-size', 22).attr('fill', '#0c0c0c');
}
alertBubblePrices.forEach((p, i) => bubble(p, alertLabels[i], '#1ea6e6'));
bubble(crossPrice, crossLabel, '#a3a3a3');
bubble(lastPrice, lastLabel, '#f7a9a9');

// time bubble
const tb = svg.append('g');
tb.append('rect').attr('x', crossX + 3).attr('y', 1663).attr('width', 67).attr('height', 32).attr('rx', 6).attr('fill', '#a8a8a8');
tb.append('text').attr('x', crossX + 36.5).attr('y', 1688).attr('text-anchor', 'middle').text(crossTimeLabel)
  .attr('font-family', 'Open Sans, sans-serif').attr('font-size', 22).attr('fill', '#111');
</script>
</body></html>
